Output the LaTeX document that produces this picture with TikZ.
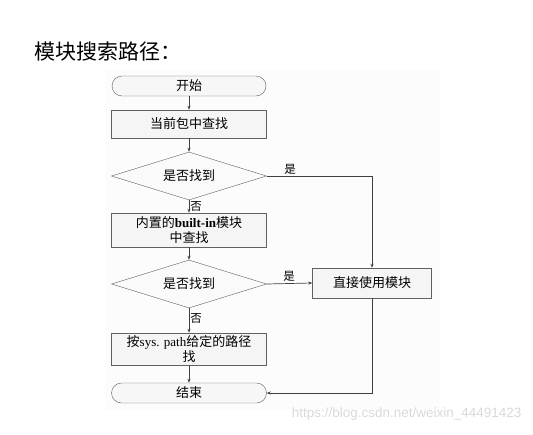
\documentclass[tikz,border=0pt]{standalone}
\usepackage{fontspec}
\setmainfont{Liberation Serif}
\newfontfamily\cjk{Noto Sans CJK SC}
\usetikzlibrary{shapes.geometric,arrows.meta}
\begin{document}
\begin{tikzpicture}[x=1pt,y=-1pt,
  every node/.style={font=\cjk\fontsize{13}{15}\selectfont},
  procbox/.style={draw=gray!75!black,fill=gray!8,minimum width=155pt,align=center,inner sep=2pt},
  termbox/.style={draw=gray!75!black,fill=gray!6,minimum width=154pt,minimum height=20pt,rounded corners=10pt},
  decide/.style={draw=gray!75!black,fill=gray!4,diamond,aspect=3.2,minimum width=155pt,minimum height=48pt,inner sep=0pt},
  conn/.style={draw=gray!50!black,line width=0.7pt,-{Stealth[length=4pt,width=3pt]}},
  lbl/.style={font=\cjk\fontsize{11.5}{13}\selectfont,inner sep=1pt}]
\useasboundingbox (0,0) rectangle (533,434);
\fill[gray!2] (105,70) rectangle (440,410);
\node[anchor=west,font=\cjk\fontsize{21}{24}\selectfont] (title) at (31,52) {模块搜索路径：};
\node[termbox] (start) at (189,86) {开始};
\node[procbox,minimum height=28pt] (b1) at (189,124) {当前包中查找};
\node[decide] (d1) at (189,176) {是否找到};
\node[procbox,minimum height=34pt] (b2) at (189,230) {内置的{\rmfamily\bfseries built-in}模块\\中查找};
\node[decide] (d2) at (189,284) {是否找到};
\node[procbox,minimum width=119pt,minimum height=30pt] (use) at (372,283) {直接使用模块};
\node[procbox,minimum height=32pt] (b4) at (189,349) {按{\rmfamily sys. path}给定的路径\\找};
\node[termbox,minimum width=155pt] (end) at (189,393) {结束};
\coordinate (c1) at (372,176);
\coordinate (c2) at (372,393);
\draw[conn] (start) -- (b1);
\draw[conn] (b1) -- (d1);
\draw[conn] (d1) -- (b2) node[lbl,pos=0.5,right] {否};
\draw[conn] (b2) -- (d2);
\draw[conn] (d2) -- (b4) node[lbl,pos=0.4,right] {否};
\draw[conn] (b4) -- (end);
\draw[conn] (d1.east) -- (c1) -- (use.north);
\node[lbl] (y1) at (290,169) {是};
\draw[conn] (d2.east) -- (use.west);
\node[lbl] (y2) at (289,276) {是};
\draw[conn] (use.south) -- (c2) -- (end.east);
\node[anchor=east,text=gray!30,font=\fontspec{Liberation Sans}\fontsize{13.5}{15}\selectfont] (wm) at (525,414) {https://blog.csdn.net/weixin\_44491423};
\end{tikzpicture}
\end{document}
